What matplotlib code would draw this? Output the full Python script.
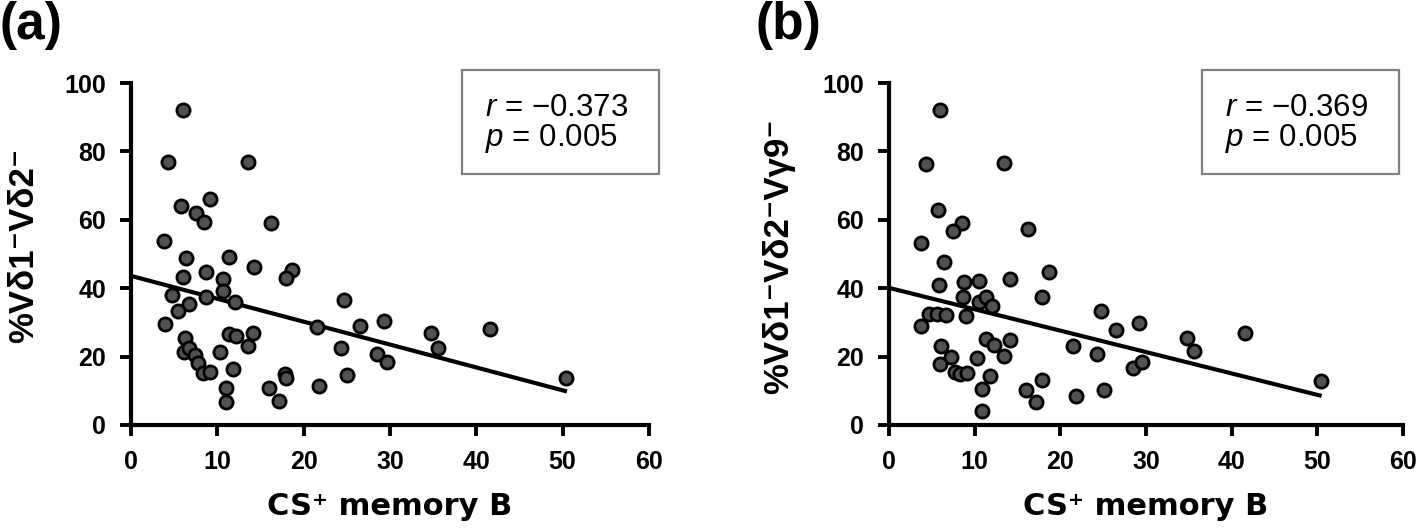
import matplotlib
matplotlib.use("Agg")
import matplotlib.pyplot as plt

plt.rcParams['font.family'] = ['Liberation Sans', 'DejaVu Sans']
plt.rcParams['mathtext.fontset'] = 'custom'
plt.rcParams['mathtext.it'] = 'Liberation Sans:italic'
plt.rcParams['mathtext.rm'] = 'Liberation Sans'

# ---- data ----
xa = [6.0, 4.3, 13.5, 5.8, 9.1, 7.5, 8.5, 16.2, 3.8, 6.4, 11.3, 14.2, 18.7, 18.0, 6.0, 8.7, 10.6, 10.6, 4.7, 8.7,
      6.7, 5.5, 12.0, 3.9, 21.5, 24.7, 26.5, 29.3, 6.2, 6.1, 6.7, 7.4, 7.8, 8.3, 9.2, 10.3, 11.3, 12.2, 14.1, 13.5,
      11.8, 11.0, 11.0, 16.0, 17.2, 17.8, 18.0, 21.8, 24.3, 25.0, 28.5, 29.6, 34.7, 35.6, 41.6, 50.4]
ya = [92.1, 77.0, 77.0, 64.0, 66.0, 62.1, 59.4, 59.2, 53.9, 48.9, 49.2, 46.3, 45.3, 43.1, 43.4, 44.6, 42.6, 39.3, 38.0, 37.5,
      35.3, 33.4, 35.9, 29.4, 28.8, 36.5, 29.0, 30.5, 25.5, 21.4, 22.4, 20.5, 18.2, 15.3, 15.4, 21.4, 26.5, 26.1, 27.0, 23.2,
      16.4, 10.7, 6.8, 10.7, 7.1, 14.9, 13.8, 11.4, 22.4, 14.6, 20.8, 18.5, 27.0, 22.6, 28.0, 13.8]
xb = [5.9, 4.3, 13.4, 5.7, 8.5, 7.5, 16.2, 3.7, 6.4, 18.7, 14.1, 5.8, 8.7, 10.5, 17.9, 8.6, 10.5, 11.3, 12.0, 4.7,
      5.6, 6.6, 9.0, 3.7, 24.7, 26.5, 29.2, 21.5, 24.3, 28.5, 29.5, 6.1, 7.2, 6.0, 7.7, 8.3, 9.1, 10.3, 11.3, 12.2,
      14.1, 13.4, 11.8, 10.9, 10.9, 16.0, 17.2, 17.9, 21.8, 25.1, 34.8, 35.6, 41.6, 50.4]
yb = [92.1, 76.4, 76.6, 63.0, 59.0, 56.7, 57.4, 53.2, 47.6, 44.7, 42.6, 41.0, 41.9, 42.1, 37.5, 37.5, 35.9, 37.3, 34.8, 32.5,
      32.5, 32.2, 31.9, 29.0, 33.4, 27.8, 29.8, 23.1, 20.7, 16.6, 18.3, 23.0, 19.9, 17.8, 15.5, 14.9, 15.2, 19.6, 25.1, 23.4,
      25.0, 20.1, 14.3, 10.4, 4.1, 10.2, 6.7, 13.2, 8.5, 10.3, 25.3, 21.5, 27.0, 12.9]

fit_a_x = [0, 50.5]
fit_a_y = [43.6, 9.8]
fit_b_x = [0, 50.5]
fit_b_y = [40.1, 8.5]

xticks = [0, 10, 20, 30, 40, 50, 60]
yticks = [0, 20, 40, 60, 80, 100]

panels = [
    dict(x=xa, y=ya, fx=fit_a_x, fy=fit_a_y, tag='(a)', ylabel='%Vδ1⁻Vδ2⁻',
         r='−0.373', p='0.005', rect=[131/1418, 104/529, 518/1418, 342/529],
         tagx=0.0, ylx=24/1418, yly=1-245/529, box=(462, 70, 659, 174)),
    dict(x=xb, y=yb, fx=fit_b_x, fy=fit_b_y, tag='(b)', ylabel='%Vδ1⁻Vδ2⁻Vγ9⁻',
         r='−0.369', p='0.005', rect=[889/1418, 104/529, 514/1418, 342/529],
         tagx=756/1418, ylx=779/1418, yly=1-256/529, box=(1202, 70, 1399, 174)),
]

fig = plt.figure(figsize=(14.18, 5.29), dpi=100)

for P in panels:
    ax = fig.add_axes(P['rect'])
    ax.plot(P['fx'], P['fy'], color='black', lw=3.0, zorder=2, solid_capstyle='butt')
    ax.scatter(P['x'], P['y'], s=90, facecolor='#515151', edgecolor='black', linewidths=2.0,
               zorder=3, clip_on=False)
    ax.set_xlim(0, 60)
    ax.set_ylim(0, 100)
    ax.set_xticks(xticks)
    ax.set_yticks(yticks)
    for s in ['top', 'right']:
        ax.spines[s].set_visible(False)
    for s in ['left', 'bottom']:
        ax.spines[s].set_linewidth(3.0)
    ax.tick_params(axis='both', direction='out', length=8, width=2.8, pad=10,
                   labelsize=18)
    for lab in ax.get_xticklabels() + ax.get_yticklabels():
        lab.set_fontweight('bold')
    ax.set_xlabel('CS⁺ memory B', fontsize=22, fontweight='bold',
                  family=['DejaVu Sans'], va='baseline')
    ax.xaxis.set_label_coords(0.5, -0.263)
    fig.text(P['ylx'], P['yly'], P['ylabel'], rotation=90, ha='center', va='center',
             fontsize=25, fontweight='bold')
    fig.text(P['tagx'], 0.998, P['tag'], ha='left', va='top', fontsize=37, fontweight='bold')
    # stats box
    x0, y0, x1, y1 = P['box']
    rect = plt.Rectangle((x0/1418, 1-y1/529), (x1-x0)/1418, (y1-y0)/529, transform=fig.transFigure,
                         facecolor='white', edgecolor='#808080', lw=1.6)
    fig.add_artist(rect)
    tx = (x0 + 23)/1418
    fig.text(tx, 1-116/529, f'$\\mathit{{r}}$ = {P["r"]}', ha='left', va='baseline', fontsize=22.5)
    fig.text(tx, 1-146/529, f'$\\mathit{{p}}$ = {P["p"]}', ha='left', va='baseline', fontsize=22.5)

fig.savefig('out.png', dpi=100, facecolor='white')
